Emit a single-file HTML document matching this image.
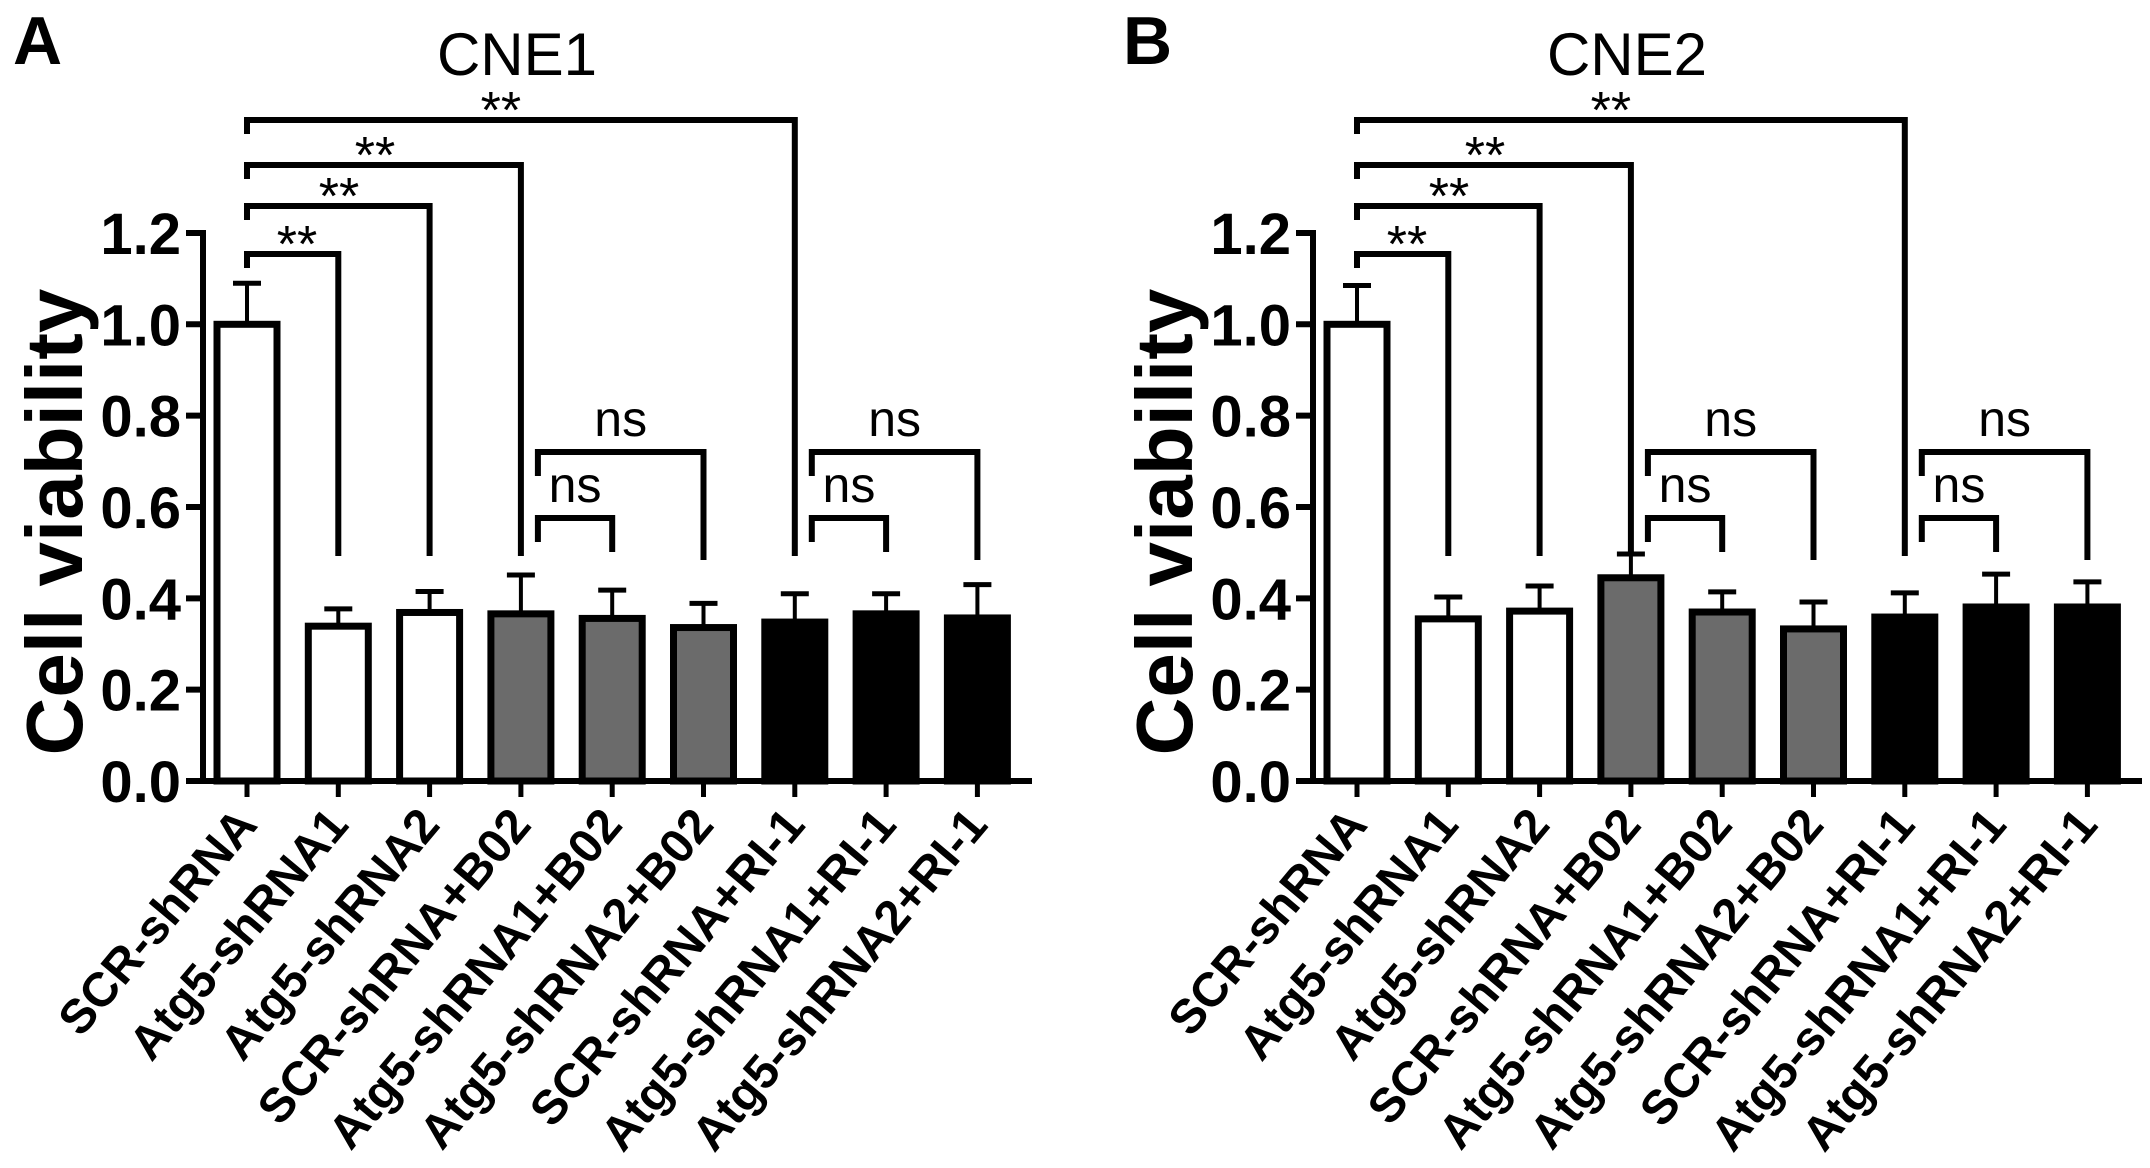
<!DOCTYPE html>
<html><head><meta charset="utf-8"><style>
html,body{margin:0;padding:0;background:#fff;}
svg{display:block;font-family:"Liberation Sans",Arial,sans-serif;}
</style></head><body>
<svg id="fig" width="2150" height="1168" viewBox="0 0 2150 1168" xmlns="http://www.w3.org/2000/svg"></svg>
<script>
const categories = ["SCR-shRNA","Atg5-shRNA1","Atg5-shRNA2","SCR-shRNA+B02","Atg5-shRNA1+B02","Atg5-shRNA2+B02","SCR-shRNA+RI-1","Atg5-shRNA1+RI-1","Atg5-shRNA2+RI-1"];
const cne1Values = [1.00,0.339,0.369,0.366,0.356,0.336,0.348,0.366,0.357];
const cne1ErrTop = [1.09,0.377,0.415,0.451,0.418,0.389,0.41,0.41,0.43];
const cne2Values = [1.00,0.355,0.372,0.445,0.37,0.333,0.359,0.381,0.381];
const cne2ErrTop = [1.085,0.403,0.427,0.497,0.414,0.392,0.412,0.453,0.436];
const groupFill = ["#fff","#fff","#fff","#6b6b6b","#6b6b6b","#6b6b6b","#000","#000","#000"];
const yTicks = [0,0.2,0.4,0.6,0.8,1.0,1.2];
const yTickLabels = ["0.0","0.2","0.4","0.6","0.8","1.0","1.2"];
const starPairs = [[0,1],[0,2],[0,3],[0,6]];
const nsPairs = [[3,4],[3,5],[6,7],[6,8]];

const NS="http://www.w3.org/2000/svg";
const svg=document.getElementById('fig');
function mk(tag,attrs,parent){const e=document.createElementNS(NS,tag);for(const k in attrs)e.setAttribute(k,attrs[k]);(parent||svg).appendChild(e);return e;}

function panel(ox, letter, title, values, errTop, key){
  const g=mk('g',{transform:`translate(${ox},0)`});
  
  
  const y0=781, ppu=456.7;
  const y=v=>y0-v*ppu;
  const x=i=>247+i*91.3;
  const axL=203, axR=1032;
  const L=mk('text',{x:13,y:64,'font-size':68,'font-weight':'bold'},g); L.textContent=letter;
  
  
  const T=mk('text',{x:517,y:75,'font-size':60,'text-anchor':'middle'},g); T.textContent=title;
  
  
  const YT=mk('text',{x:0,y:0,'font-size':80,'font-weight':'bold','text-anchor':'middle',transform:'translate(82,522) rotate(-90)'},g); YT.textContent='Cell viability';
  
  
  values.forEach((v,i)=>{
    const cx=x(i);
    const et=mk('line',{x1:cx,x2:cx,y1:y(v),y2:y(errTop[i]),stroke:'#000','stroke-width':4},g);
    
    
    const cap=mk('line',{x1:cx-14,x2:cx+14,y1:y(errTop[i]),y2:y(errTop[i]),stroke:'#000','stroke-width':5},g);
    
    
    const r=mk('rect',{x:cx-30,y:y(v),width:60,height:y0-y(v),fill:groupFill[i],stroke:'#000','stroke-width':7},g);
    
    
    const tk=mk('line',{x1:cx,x2:cx,y1:y0,y2:y0+16,stroke:'#000','stroke-width':5},g);
    
    
    const lb=mk('text',{x:0,y:0,'font-size':48,'font-weight':'bold','text-anchor':'end',transform:`translate(${cx+12},826) rotate(-50)`},g);
    lb.textContent=categories[i];
    
    
  });
  const ya=mk('line',{x1:axL,x2:axL,y1:y(1.2)-3,y2:y0+3,stroke:'#000','stroke-width':6},g);
  
  
  const xa=mk('line',{x1:axL-16,x2:axR,y1:y0,y2:y0,stroke:'#000','stroke-width':6},g);
  
  
  yTicks.forEach((t,i)=>{
    const tl=mk('line',{x1:axL-17,x2:axL,y1:y(t),y2:y(t),stroke:'#000','stroke-width':6},g);
    
    
    const tt=mk('text',{x:181,y:y(t)+21,'font-size':58,'font-weight':'bold','text-anchor':'end'},g);
    tt.textContent=yTickLabels[i];
    
    
  });
  const starY=[254,206,165,120];
  const starX=[50,92,128,0];
  starPairs.forEach((p,k)=>{
    const a=x(p[0]), b=x(p[1]), hy=starY[k];
    const pl=mk('path',{d:`M${a},${hy+14} L${a},${hy} L${b},${hy} L${b},556`,fill:'none',stroke:'#000','stroke-width':6},g);
    
    
    const st=mk('text',{x:(k<3? a+starX[k] : (a+b)/2-20),y:hy+8,'font-size':52,'text-anchor':'middle'},g);
    st.textContent='**';
    
    
  });
  const nsY=[518,452,518,452];
  nsPairs.forEach((p,k)=>{
    const a=x(p[0])+17, b=x(p[1]), hy=nsY[k];
    const pl=mk('path',{d:`M${a},${hy+24} L${a},${hy} L${b},${hy} L${b},${k%2?560:552}`,fill:'none',stroke:'#000','stroke-width':6},g);
    
    
    const st=mk('text',{x:(a+b)/2,y:hy-16,'font-size':50,'text-anchor':'middle'},g);
    st.textContent='ns';
    
    
  });
}
panel(0,'A','CNE1',cne1Values,cne1ErrTop,'cne1');
panel(1110,'B','CNE2',cne2Values,cne2ErrTop,'cne2');
</script>
</body></html>
